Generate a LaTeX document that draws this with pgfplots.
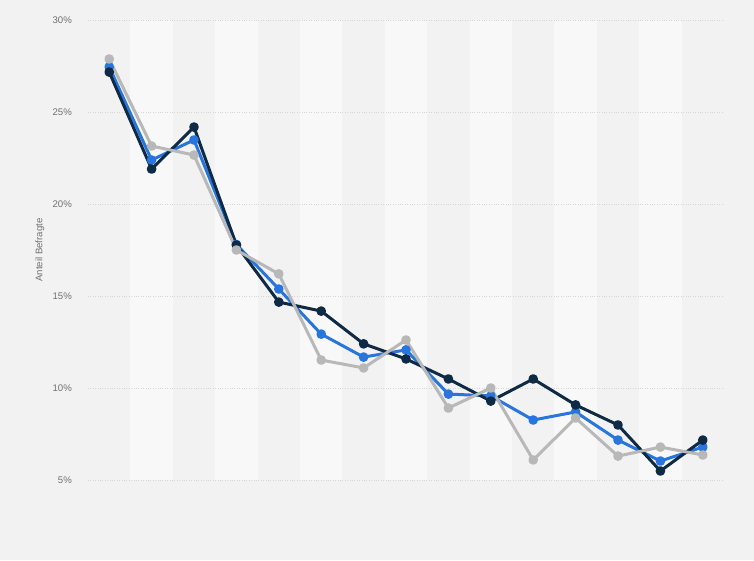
\documentclass[border=0pt]{standalone}
\usepackage{pgfplots}
\pgfplotsset{compat=1.18}
\usepackage{fontspec}
\setmainfont{Liberation Sans}
\definecolor{bgc}{HTML}{F2F2F2}
\definecolor{bandc}{HTML}{F8F8F8}
\definecolor{gridc}{HTML}{D6D6D6}
\definecolor{navy}{HTML}{0F2A45}
\definecolor{sblue}{HTML}{2876DD}
\definecolor{sgrey}{HTML}{B8B8B8}
\definecolor{txt}{HTML}{707070}
\pgfplotsset{base/.style={
  at={(88pt,80pt)}, anchor=south west,
  scale only axis, width=636pt, height=460pt,
  xmin=-0.5, xmax=14.5, ymin=5, ymax=30,
  axis line style={draw=none},
  xtick=\empty, major tick length=0pt, clip=false}}
\begin{document}
\begin{tikzpicture}
\fill[bgc] (0pt,0pt) rectangle (754pt,560pt);
\begin{axis}[base, ytick=\empty]
\fill[bandc] (axis cs:0.5,5) rectangle (axis cs:1.5,30);
\fill[bandc] (axis cs:2.5,5) rectangle (axis cs:3.5,30);
\fill[bandc] (axis cs:4.5,5) rectangle (axis cs:5.5,30);
\fill[bandc] (axis cs:6.5,5) rectangle (axis cs:7.5,30);
\fill[bandc] (axis cs:8.5,5) rectangle (axis cs:9.5,30);
\fill[bandc] (axis cs:10.5,5) rectangle (axis cs:11.5,30);
\fill[bandc] (axis cs:12.5,5) rectangle (axis cs:13.5,30);
\end{axis}
\begin{axis}[base,
  ytick={5,10,15,20,25,30},
  yticklabels={5\%,10\%,15\%,20\%,25\%,30\%},
  ymajorgrids,
  grid style={gridc, dotted, line width=0.8pt},
  yticklabel style={anchor=east, inner sep=0pt, xshift=-16pt, font=\fontsize{9.6}{11}\selectfont, text=txt},
  ylabel={Anteil Befragte},
  ylabel style={at={(axis description cs:-0.0755,0.5)}, anchor=center, font=\fontsize{9.6}{11}\selectfont, text=txt},
  every axis plot/.append style={line width=3pt, mark=*, mark size=3.3pt, line join=round},
]
\addplot[color=sblue, mark options={fill=sblue}] coordinates {
(0,27.45) (1,22.39) (2,23.48) (3,17.8) (4,15.38) (5,12.93) (6,11.68) (7,12.07)
(8,9.67) (9,9.57) (10,8.26) (11,8.70) (12,7.17) (13,6.03) (14,6.79)};
\addplot[color=navy, mark options={fill=navy}] coordinates {
(0,27.17) (1,21.9) (2,24.18) (3,17.77) (4,14.67) (5,14.18) (6,12.4) (7,11.58)
(8,10.49) (9,9.29) (10,10.49) (11,9.08) (12,7.99) (13,5.49) (14,7.17)};
\addplot[color=sgrey, mark options={fill=sgrey}] coordinates {
(0,27.88) (1,23.15) (2,22.66) (3,17.5) (4,16.2) (5,11.52) (6,11.09) (7,12.61)
(8,8.91) (9,10.0) (10,6.09) (11,8.37) (12,6.30) (13,6.79) (14,6.36)};
\end{axis}
\useasboundingbox (0pt,0pt) rectangle (754pt,560pt);
\end{tikzpicture}
\end{document}
